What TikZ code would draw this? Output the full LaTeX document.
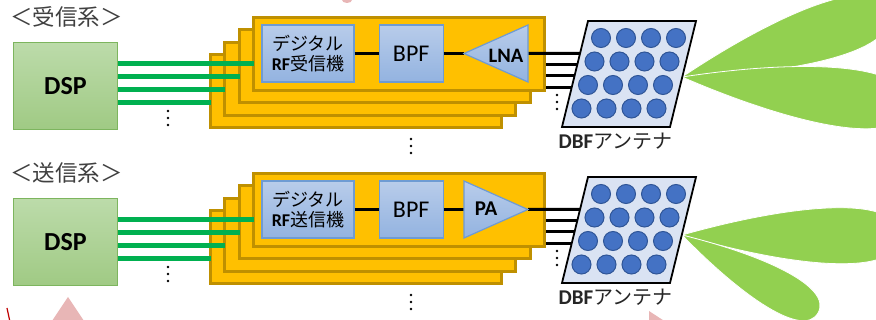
\documentclass[tikz,border=0pt]{standalone}
\usepackage{fontspec}
\setmainfont{Carlito}
\newfontfamily\jp{Noto Sans CJK JP}
\usetikzlibrary{positioning,calc}

\definecolor{titlegray}{HTML}{404040}
\definecolor{dsptop}{HTML}{BCDBAA}
\definecolor{dspbot}{HTML}{A0CA84}
\definecolor{dspedge}{HTML}{7DB55E}
\definecolor{cardfill}{HTML}{FFC000}
\definecolor{cardedge}{HTML}{BF9000}
\definecolor{blocktop}{HTML}{B8CCEA}
\definecolor{blockbot}{HTML}{93B3E0}
\definecolor{blockedge}{HTML}{6E9BD3}
\definecolor{panelfill}{HTML}{DAE3F3}
\definecolor{elemblue}{HTML}{4472C4}
\definecolor{elemedge}{HTML}{2F5597}
\definecolor{siggreen}{HTML}{00B050}
\definecolor{beamgreen}{HTML}{92D050}
\definecolor{pinkish}{HTML}{E8B6B6}
\definecolor{darkred}{HTML}{C00000}

\tikzset{
  title/.style={font=\jp\fontsize{22.5}{26}\selectfont, text=titlegray, inner sep=0pt},
  dspbox/.style={draw=dspedge, line width=1.5pt, top color=dsptop, bottom color=dspbot,
    minimum width=104pt, minimum height=87pt, font=\bfseries\fontsize{26}{28}\selectfont},
  card/.style={draw=cardedge, fill=cardfill, line width=3pt, minimum width=291pt, minimum height=73pt},
  blockbox/.style={draw=blockedge, line width=1.2pt, top color=blocktop, bottom color=blockbot,
    minimum height=57pt, inner sep=0pt},
  amp/.style={draw=blockedge, line width=1.2pt, top color=blocktop, bottom color=blockbot},
  sig/.style={draw=siggreen, line width=5pt},
  wire/.style={line width=3pt},
  panel/.style={fill=panelfill, draw=black, line width=1.8pt, line join=miter},
  elem/.style={fill=elemblue, draw=elemedge, line width=1pt},
  beam/.style={fill=beamgreen, draw=white, line width=0.8pt},
  vdots/.pic={\foreach \k in {0,1,2} \fill (0,7*\k) circle (1.4);}
}

% petal shaped beam from #1 to its far end #2
\newcommand{\lobe}[2]{%
  \path[beam] (#1) .. controls ($(#1)!0.55!16:(#2)$) and ($(#2)!0.19!-90:(#1)$) .. (#2)
    .. controls ($(#2)!0.19!90:(#1)$) and ($(#1)!0.55!-16:(#2)$) .. (#1) -- cycle;}

\begin{document}
\begin{tikzpicture}[x=1pt, y=-1pt]
\useasboundingbox (0,0) rectangle (876,320);
\clip (0,0) rectangle (876,320);

% beams
\coordinate (feedrx) at (682,77);
\coordinate (feedtx) at (682,235);
\lobe{feedrx}{889,11}
\lobe{feedrx}{908,106}
\lobe{feedtx}{900,236}
\lobe{feedtx}{818,313}

\foreach \s/\dy/\sys/\blk in {rx/0/受信系/受信機, tx/156/送信系/送信機} {
  \begin{scope}[yshift=-\dy pt]
    \node[title, anchor=west] (title\s) at (10,17) {＜\sys＞};
    \node[dspbox] (dsp\s) at (65.5,86) {DSP};

    % stacked RF cards
    \foreach \i in {3,2,1,0}
      \node[card] (card\s\i) at (399-14.3*\i, 54+12.3*\i) {};

    \node[blockbox, minimum width=92pt, align=center, font=\jp\fontsize{18}{20}\selectfont]
      (rf\s) at (308,53.5) {デジタル\\{\rmfamily\bfseries\fontsize{18}{20}\selectfont RF}\blk};
    \node[blockbox, minimum width=64pt, right=24pt of rf\s, font=\fontsize{24}{26}\selectfont]
      (bpf\s) {BPF};
    \coordinate (ampL\s) at (464,53.5);
    \coordinate (ampR\s) at (528,53.5);
    \draw[wire] (rf\s) -- (bpf\s);
    \draw[wire] (bpf\s) -- (ampL\s);

    % DSP to cards
    \foreach \j in {0,...,3} {
      \coordinate (g\s\j) at (0,64+13*\j);
      \draw[sig, shorten >=-2pt] (dsp\s.east |- g\s\j) -- (card\s\j.west |- g\s\j);
    }

    % array antenna
    \coordinate (abl\s) at (562,127);
    \coordinate (abr\s) at (670,127);
    \coordinate (atr\s) at (696,21);
    \coordinate (atl\s) at (588,21);
    \foreach \j in {0,...,3}
      \coordinate (o\s\j) at ($(abl\s)!{(73.5-11.2*\j)/106}!(atl\s)$);
    \draw[wire] (ampR\s) -- (o\s0);
    \foreach \j in {1,2,3}
      \draw[wire] (card\s0.east |- o\s\j) -- (o\s\j);
    \draw[panel] (abl\s) -- (abr\s) -- (atr\s) -- (atl\s) -- cycle;
    \foreach \r in {0,...,3}
      \foreach \c in {0,...,3}
        \draw[elem] (601-6.5*\r+25*\c, 38+23.5*\r) circle (9.5);
    \node[inner sep=0pt, text=black!85] (ant\s) at (615.5,141)
      {{\bfseries\fontsize{21}{22}\selectfont DBF}{\jp\fontsize{20}{22}\selectfont アンテナ}};

    \pic at (168,111) {vdots};
    \pic at (411,139) {vdots};
    \pic at (557,95) {vdots};
  \end{scope}
}

% amplifiers
\draw[amp] (ampLrx) -- (528,25) -- (528,82) -- cycle;
\node[font=\bfseries\fontsize{20.5}{22}\selectfont] (lna) at (506,56) {LNA};
\draw[amp] (464,181) -- (ampRtx) -- (464,238) -- cycle;
\node[font=\bfseries\fontsize{21}{22}\selectfont] (pa) at (486,209) {PA};

% cut-off marks at the edges
\fill[pinkish] (68,297) -- (90,330) -- (46,330) -- cycle;
\fill[pinkish] (649,311) -- (672,326) -- (649,326) -- cycle;
\fill[pinkish] (347,0) ellipse (5 and 3);
\draw[darkred, line width=1.2pt] (7,308) -- (10,322);
\end{tikzpicture}
\end{document}
